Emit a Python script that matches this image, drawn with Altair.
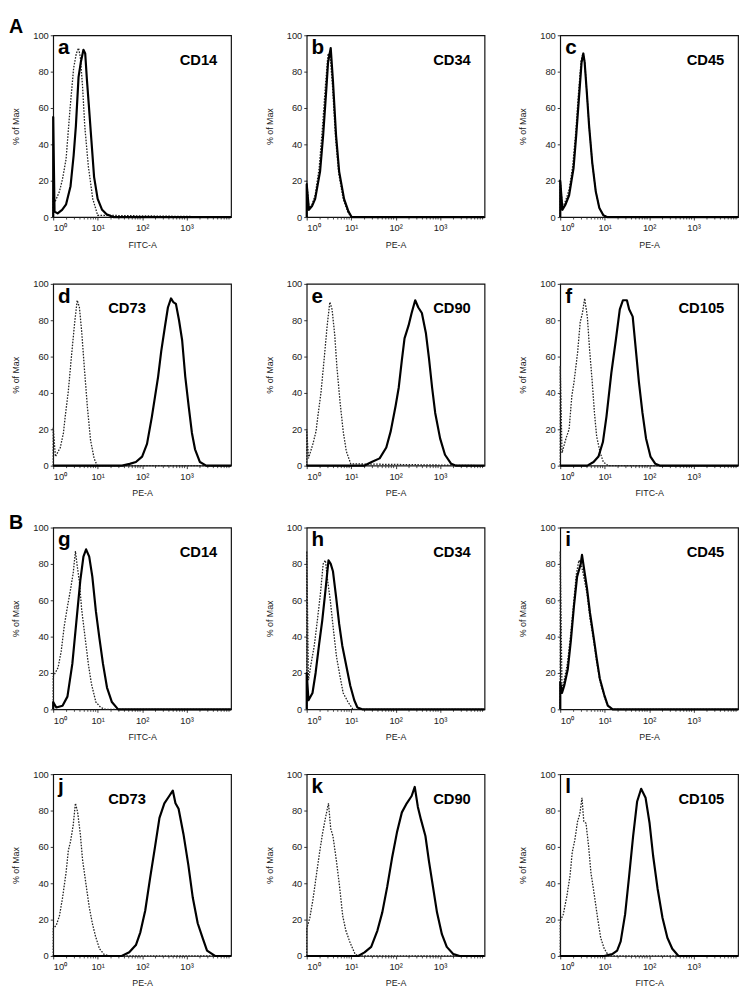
import math
import altair as alt
import pandas as pd

FONT = "Liberation Sans"
W, H = 181, 185

# ---- data: x in log10 fluorescence units, y in % of Max ----
A_DOT_X = [0, 0, 0.05, 0.14, 0.21, 0.29, 0.38, 0.46, 0.52, 0.57, 0.61, 0.66, 0.71, 0.79, 0.89, 1.0, 4]
A_DOT_Y = [0, 10, 9, 14, 21, 32, 60, 82, 90, 93, 88, 72, 50, 28, 10, 1, 0]
A_SOL_X = [0, 0, 0.03, 0.1, 0.2, 0.29, 0.39, 0.46, 0.51, 0.57, 0.62, 0.68, 0.72, 0.76, 0.8, 0.86, 0.92, 1.0, 1.1, 1.2, 1.35, 4]
A_SOL_Y = [0, 55, 3, 2, 4, 7, 17, 34, 50, 77, 85, 92, 90, 75, 62, 42, 22, 10, 4, 1.5, 0, 0]

B_DOT_X = [0, 0, 0.05, 0.12, 0.19, 0.28, 0.35, 0.42, 0.48, 0.53, 0.58, 0.65, 0.72, 0.82, 0.92, 1.0, 4]
B_DOT_Y = [0, 20, 5, 7, 12, 27, 48, 72, 90, 88, 72, 43, 24, 10, 3, 0, 0]
B_SOL_X = [0, 0, 0.05, 0.12, 0.19, 0.3, 0.37, 0.44, 0.48, 0.54, 0.59, 0.66, 0.73, 0.84, 0.94, 1.01, 4]
B_SOL_Y = [0, 18, 4, 6, 10, 25, 45, 70, 85, 93, 75, 45, 25, 10, 3, 0, 0]

C_DOT_X = [0, 0, 0.05, 0.12, 0.2, 0.28, 0.35, 0.41, 0.47, 0.51, 0.55, 0.6, 0.65, 0.72, 0.8, 0.88, 0.97, 1.05, 4]
C_DOT_Y = [0, 21, 5, 9, 15, 28, 47, 68, 86, 90, 86, 68, 50, 30, 14, 5, 1, 0, 0]
C_SOL_X = [0, 0, 0.05, 0.12, 0.2, 0.3, 0.36, 0.42, 0.48, 0.52, 0.55, 0.6, 0.65, 0.72, 0.8, 0.88, 0.97, 1.05, 4]
C_SOL_Y = [0, 20, 4, 7, 12, 27, 45, 65, 85, 90, 85, 68, 50, 30, 14, 5, 1, 0, 0]

D_DOT_X = [0, 0, 0.05, 0.16, 0.23, 0.27, 0.34, 0.41, 0.48, 0.54, 0.59, 0.64, 0.7, 0.77, 0.84, 0.92, 0.99, 4]
D_DOT_Y = [0, 21, 5, 10, 18, 27, 41, 60, 78, 91, 87, 74, 54, 32, 14, 4, 0, 0]
D_SOL_X = [0, 1.55, 1.72, 1.86, 2.0, 2.11, 2.22, 2.29, 2.36, 2.43, 2.51, 2.58, 2.65, 2.7, 2.76, 2.83, 2.9, 2.97, 3.05, 3.12, 3.19, 3.3, 3.44, 4]
D_SOL_Y = [0, 0, 1, 2, 5, 12, 27, 38, 49, 63, 76, 87, 92, 90, 89, 80, 69, 49, 32, 18, 9, 2, 0, 0]

E_DOT_X = [0, 0, 0.04, 0.14, 0.21, 0.25, 0.32, 0.39, 0.46, 0.52, 0.57, 0.63, 0.68, 0.75, 0.82, 0.89, 0.99, 4]
E_DOT_Y = [0, 20, 4, 12, 19, 27, 40, 58, 77, 90, 86, 72, 54, 35, 19, 8, 1, 0]
E_SOL_X = [0, 1.29, 1.46, 1.64, 1.79, 1.89, 2.0, 2.07, 2.14, 2.2, 2.29, 2.36, 2.44, 2.51, 2.59, 2.68, 2.75, 2.82, 2.89, 3.0, 3.11, 3.25, 3.36, 4]
E_SOL_Y = [0, 0, 2, 4, 10, 19, 33, 43, 58, 70, 77, 84, 91, 87, 84, 73, 59, 43, 29, 15, 6, 1, 0, 0]

F_DOT_X = [0, 0, 0.04, 0.13, 0.2, 0.26, 0.31, 0.39, 0.45, 0.5, 0.55, 0.61, 0.66, 0.72, 0.77, 0.82, 0.9, 0.97, 1.08, 4]
F_DOT_Y = [0, 55, 7, 15, 20, 38, 46, 62, 79, 84, 92, 82, 64, 46, 29, 16, 7, 2, 0, 0]
F_SOL_X = [0, 0.61, 0.75, 0.86, 0.96, 1.04, 1.15, 1.25, 1.34, 1.41, 1.5, 1.55, 1.63, 1.7, 1.77, 1.85, 1.93, 2.03, 2.14, 2.25, 4]
F_SOL_Y = [0, 0, 2, 5, 13, 27, 51, 69, 86, 91, 91, 86, 82, 64, 46, 29, 15, 5, 1, 0, 0]

G_DOT_X = [0, 0, 0.11, 0.18, 0.25, 0.31, 0.39, 0.45, 0.5, 0.54, 0.59, 0.64, 0.71, 0.79, 0.86, 0.96, 1.07, 1.18, 4]
G_DOT_Y = [0, 18, 23, 32, 46, 55, 66, 75, 87, 79, 70, 55, 41, 25, 14, 4, 1, 0, 0]
G_SOL_X = [0, 0, 0.07, 0.21, 0.32, 0.43, 0.52, 0.61, 0.68, 0.74, 0.81, 0.88, 0.96, 1.04, 1.12, 1.21, 1.32, 1.46, 4]
G_SOL_Y = [0, 4, 1, 2, 7, 25, 48, 71, 84, 88, 84, 73, 54, 39, 25, 12, 4, 0, 0]

H_DOT_X = [0, 0, 0.04, 0.09, 0.17, 0.24, 0.31, 0.37, 0.42, 0.47, 0.53, 0.6, 0.67, 0.75, 0.82, 0.93, 1.04, 4]
H_DOT_Y = [0, 87, 16, 24, 35, 49, 64, 80, 82, 71, 60, 44, 29, 18, 9, 4, 0, 0]
H_SOL_X = [0, 0, 0.04, 0.13, 0.2, 0.28, 0.35, 0.42, 0.49, 0.54, 0.59, 0.66, 0.73, 0.8, 0.89, 0.98, 1.07, 1.14, 1.25, 4]
H_SOL_Y = [0, 20, 5, 9, 20, 36, 49, 65, 82, 80, 76, 62, 47, 35, 24, 13, 5, 1, 0, 0]

I_DOT_X = [0, 0, 0.04, 0.09, 0.16, 0.23, 0.3, 0.36, 0.42, 0.47, 0.53, 0.6, 0.67, 0.75, 0.82, 0.89, 0.99, 1.07, 1.18, 4]
I_DOT_Y = [0, 87, 10, 16, 25, 40, 58, 74, 82, 80, 73, 64, 50, 38, 26, 16, 7, 2, 0, 0]
I_SOL_X = [0, 0, 0.04, 0.09, 0.17, 0.24, 0.31, 0.38, 0.46, 0.49, 0.55, 0.6, 0.67, 0.75, 0.82, 0.89, 0.99, 1.07, 1.18, 4]
I_SOL_Y = [0, 15, 9, 13, 22, 38, 57, 73, 80, 85, 75, 67, 53, 40, 28, 17, 8, 2, 0, 0]

J_DOT_X = [0, 0, 0.07, 0.14, 0.21, 0.29, 0.34, 0.39, 0.45, 0.5, 0.55, 0.61, 0.66, 0.74, 0.81, 0.88, 0.95, 1.04, 1.14, 1.25, 4]
J_DOT_Y = [0, 15, 17, 22, 32, 46, 58, 63, 72, 84, 79, 67, 53, 39, 27, 18, 11, 4, 1, 0, 0]
J_SOL_X = [0, 1.54, 1.71, 1.86, 1.96, 2.07, 2.18, 2.29, 2.39, 2.5, 2.61, 2.69, 2.75, 2.82, 2.93, 3.04, 3.14, 3.25, 3.36, 3.46, 3.64, 4]
J_SOL_Y = [0, 0, 2, 6, 13, 25, 43, 60, 76, 84, 88, 91, 84, 81, 67, 50, 32, 18, 10, 3, 0, 0]

K_DOT_X = [0, 0, 0.07, 0.14, 0.22, 0.29, 0.36, 0.43, 0.49, 0.54, 0.59, 0.67, 0.74, 0.81, 0.88, 0.98, 1.09, 1.16, 4]
K_DOT_Y = [0, 15, 21, 31, 45, 57, 68, 77, 84, 70, 66, 52, 38, 22, 14, 7, 1, 0, 0]
K_SOL_X = [0, 1.16, 1.3, 1.45, 1.59, 1.7, 1.81, 1.92, 2.03, 2.14, 2.25, 2.36, 2.43, 2.5, 2.57, 2.67, 2.75, 2.84, 2.93, 3.04, 3.15, 3.3, 3.44, 4]
K_SOL_Y = [0, 0, 2, 5, 14, 24, 38, 54, 68, 79, 84, 88, 93, 82, 75, 66, 52, 38, 24, 12, 5, 1, 0, 0]

L_DOT_X = [0, 0, 0.07, 0.15, 0.22, 0.27, 0.33, 0.39, 0.44, 0.49, 0.53, 0.58, 0.64, 0.69, 0.77, 0.84, 0.91, 0.99, 1.09, 4]
L_DOT_Y = [0, 19, 23, 33, 44, 57, 64, 74, 78, 87, 74, 73, 60, 46, 33, 21, 10, 4, 0, 0]
L_SOL_X = [0, 0.99, 1.17, 1.28, 1.36, 1.46, 1.55, 1.64, 1.73, 1.82, 1.92, 2.01, 2.09, 2.19, 2.3, 2.41, 2.52, 2.66, 4]
L_SOL_Y = [0, 0, 1, 3, 8, 23, 44, 66, 85, 92, 87, 73, 55, 37, 21, 10, 4, 0, 0]

LETTERS = ["a", "b", "c", "d", "e", "f", "g", "h", "i", "j", "k", "l"]
MARKERS = ["CD14", "CD34", "CD45", "CD73", "CD90", "CD105",
           "CD14", "CD34", "CD45", "CD73", "CD90", "CD105"]
CHANNELS = ["FITC-A", "PE-A", "PE-A", "PE-A", "PE-A", "FITC-A",
            "FITC-A", "PE-A", "PE-A", "PE-A", "PE-A", "FITC-A"]
SERIES = [
    (A_DOT_X, A_DOT_Y, A_SOL_X, A_SOL_Y), (B_DOT_X, B_DOT_Y, B_SOL_X, B_SOL_Y),
    (C_DOT_X, C_DOT_Y, C_SOL_X, C_SOL_Y), (D_DOT_X, D_DOT_Y, D_SOL_X, D_SOL_Y),
    (E_DOT_X, E_DOT_Y, E_SOL_X, E_SOL_Y), (F_DOT_X, F_DOT_Y, F_SOL_X, F_SOL_Y),
    (G_DOT_X, G_DOT_Y, G_SOL_X, G_SOL_Y), (H_DOT_X, H_DOT_Y, H_SOL_X, H_SOL_Y),
    (I_DOT_X, I_DOT_Y, I_SOL_X, I_SOL_Y), (J_DOT_X, J_DOT_Y, J_SOL_X, J_SOL_Y),
    (K_DOT_X, K_DOT_Y, K_SOL_X, K_SOL_Y), (L_DOT_X, L_DOT_Y, L_SOL_X, L_SOL_Y),
]
SECTIONS = {0: "A", 6: "B"}

# axis decoration (minor log ticks)
MINOR = [d + math.log10(k) for d in range(4) for k in range(2, 10)]

X_LABELS = ("datum.value == 0 ? '10\u2070' : datum.value == 1 ? '10\u00b9' : "
            "datum.value == 2 ? '10\u00b2' : '10\u00b3'")


def panel(idx):
    dx, dy, sx, sy = SERIES[idx]
    dot_df = pd.DataFrame({"x": dx, "y": dy, "i": list(range(len(dx)))})
    sol_df = pd.DataFrame({"x": sx, "y": sy, "i": list(range(len(sx)))})
    xscale = alt.Scale(domain=[0, 4], nice=False, zero=False)
    yscale = alt.Scale(domain=[0, 100], nice=False)
    xaxis = alt.Axis(values=[0, 1, 2, 3], labelExpr=X_LABELS, title=CHANNELS[idx])
    yaxis = alt.Axis(values=[0, 20, 40, 60, 80, 100], title="% of Max")
    X = alt.X("x:Q", scale=xscale, axis=xaxis)
    Y = alt.Y("y:Q", scale=yscale, axis=yaxis)

    dotted = alt.Chart(dot_df).mark_line(
        strokeDash=[1.6, 1.4], strokeWidth=1.3, color="#222222"
    ).encode(x=X, y=Y, order="i:Q")
    solid = alt.Chart(sol_df).mark_line(
        strokeWidth=2.2, color="#000000", strokeJoin="round"
    ).encode(x=X, y=Y, order="i:Q")
    minor = alt.Chart(pd.DataFrame({"x": MINOR})).mark_rule(
        color="#222222", strokeWidth=0.8
    ).encode(x=X, y=alt.value(H), y2=alt.value(H + 2.5))

    letter = alt.Chart(pd.DataFrame({"t": [LETTERS[idx]]})).mark_text(
        font=FONT, fontSize=21, fontWeight="bold", align="left", baseline="alphabetic", color="#000"
    ).encode(text="t:N", x=alt.value(5), y=alt.value(19))

    if MARKERS[idx] == "CD73":
        mk = alt.Chart(pd.DataFrame({"t": [MARKERS[idx]]})).mark_text(
            font=FONT, fontSize=15, fontWeight="bold", align="left", baseline="alphabetic", color="#000"
        ).encode(text="t:N", x=alt.value(56), y=alt.value(30))
    else:
        mk = alt.Chart(pd.DataFrame({"t": [MARKERS[idx]]})).mark_text(
            font=FONT, fontSize=15, fontWeight="bold", align="right", baseline="alphabetic", color="#000"
        ).encode(text="t:N", x=alt.value(W - 14), y=alt.value(30))

    layers = [minor, dotted, solid, letter, mk]
    if idx in SECTIONS:
        off = -18 if idx == 0 else -15
        sec = alt.Chart(pd.DataFrame({"t": [SECTIONS[idx]]})).mark_text(
            font=FONT, fontSize=20, fontWeight="bold", align="left", baseline="top", color="#000"
        ).encode(text="t:N", x=alt.value(-45), y=alt.value(off))
        layers.append(sec)
    return alt.layer(*layers).properties(width=W, height=H)


def row(r):
    return alt.hconcat(*[panel(3 * r + c) for c in range(3)], spacing=30)


top = alt.vconcat(row(0), row(1), spacing=28)
bottom = alt.vconcat(row(2), row(3), spacing=26)
chart = alt.vconcat(top, bottom, spacing=13).properties(
    padding=0, background="white"
).configure_view(
    stroke="#111111", strokeWidth=1.2
).configure_axis(
    domain=False, grid=False, tickColor="#222222", tickSize=3, tickWidth=0.9,
    labelFont=FONT, titleFont=FONT, labelFontSize=9.5, titleFontSize=9,
    labelColor="#222222", titleColor="#222222", titleFontWeight="normal"
).configure_axisX(
    labelPadding=3, titlePadding=8
).configure_axisY(
    labelPadding=2, titlePadding=12
)

chart.save("out.html", embed_options={"renderer": "svg", "actions": False})
